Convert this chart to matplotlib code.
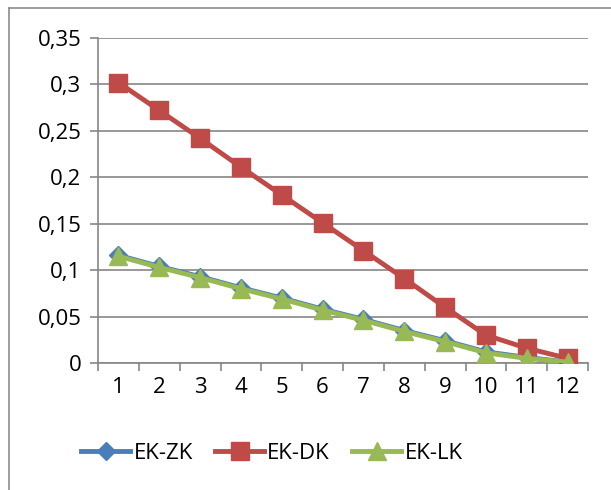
import matplotlib
matplotlib.use("Agg")
import matplotlib.pyplot as plt
from matplotlib.lines import Line2D
from matplotlib.ticker import FixedLocator, FuncFormatter

plt.rcParams['font.family'] = ['Open Sans', 'DejaVu Sans']

steps = list(range(1, 13))
ek_zk = [0.116, 0.104, 0.093, 0.081, 0.070, 0.058, 0.047, 0.035, 0.024, 0.012, 0.006, 0.001]
ek_dk = [0.302, 0.272, 0.242, 0.211, 0.181, 0.151, 0.121, 0.091, 0.060, 0.030, 0.016, 0.005]
ek_lk = [0.115, 0.103, 0.092, 0.080, 0.069, 0.057, 0.046, 0.034, 0.023, 0.011, 0.005, 0.001]
y_ticks = [0, 0.05, 0.1, 0.15, 0.2, 0.25, 0.3, 0.35]

c_blue = '#4A7EBB'
c_red = '#BE4B48'
c_green = '#98B954'
c_grid = '#868686'
fs = 16

fig = plt.figure(figsize=(6.11, 4.9), dpi=100)
ax = fig.add_axes([98 / 611, 1 - 363 / 490, 490 / 611, 325 / 490])

ax.plot(steps, ek_zk, color=c_blue, lw=3.5, marker='D', ms=9, mec=c_blue, zorder=3)
ax.plot(steps, ek_dk, color=c_red, lw=3.5, marker='s', ms=13.5, mec=c_red, zorder=4)
ax.plot(steps, ek_lk, color=c_green, lw=3.5, marker='^', ms=13.5, mec=c_green, zorder=5)

ax.set_xlim(0.5, 12.5)
ax.set_ylim(0, 0.35)
ax.set_yticks(y_ticks)
ax.yaxis.set_major_formatter(FuncFormatter(lambda v, p: ('%g' % round(v, 2)).replace('.', ',')))
ax.set_xticks(steps)
ax.xaxis.set_minor_locator(FixedLocator([i + 0.5 for i in range(0, 13)]))
ax.tick_params(axis='x', which='major', length=0, pad=10, labelsize=fs)
ax.tick_params(axis='x', which='minor', length=6, width=1.2, color=c_grid, direction='out')
ax.tick_params(axis='y', length=6, width=1.2, color=c_grid, pad=6, labelsize=fs)
ax.grid(axis='y', color=c_grid, lw=1.2, zorder=0)
ax.set_axisbelow(True)
for s in ['top', 'right']:
    ax.spines[s].set_visible(False)
for s in ['left', 'bottom']:
    ax.spines[s].set_color(c_grid)
    ax.spines[s].set_linewidth(1.2)

handles = [
    Line2D([], [], color=c_blue, lw=3.5, marker='D', ms=9),
    Line2D([], [], color=c_red, lw=3.5, marker='s', ms=13),
    Line2D([], [], color=c_green, lw=3.5, marker='^', ms=13),
]
fig.legend(handles, ['EK-ZK', 'EK-DK', 'EK-LK'], loc='center', bbox_to_anchor=(272 / 611, 1 - 453 / 490),
           ncol=3, frameon=False, fontsize=fs, handlelength=2.2, handletextpad=0.15, columnspacing=1.0)

# chart frame: only top and left edges
fig.add_artist(Line2D([9 / 611, 1], [1 - 8 / 490, 1 - 8 / 490], color='#8c8c8c', lw=1.2))
fig.add_artist(Line2D([9 / 611, 9 / 611], [0, 1 - 8 / 490], color='#8c8c8c', lw=1.2))

fig.savefig('out.png', dpi=100)
